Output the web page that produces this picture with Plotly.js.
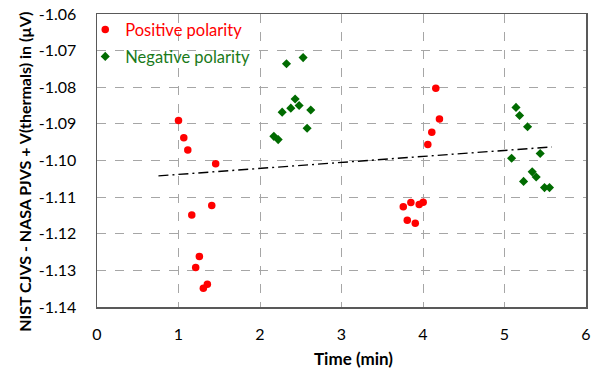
<!DOCTYPE html>
<html>
<head>
<meta charset="utf-8">
<script src="https://cdn.plot.ly/plotly-3.0.1.min.js"></script>
<style>
  html, body { margin: 0; padding: 0; background: #fff; }
  #chart { width: 598px; height: 370px; }
</style>
</head>
<body>
<div id="chart"></div>
<script>
// Positive polarity readings
var posTime = [1.00, 1.065, 1.114, 1.163, 1.211, 1.256, 1.305, 1.354, 1.408, 1.456,
               3.758, 3.807, 3.851, 3.905, 3.953, 4.002, 4.059, 4.108, 4.157, 4.202];
var posValue = [-1.0891, -1.0938, -1.0971, -1.1149, -1.1292, -1.1262, -1.1349, -1.1338, -1.1123, -1.1009,
                -1.1126, -1.1163, -1.1115, -1.1171, -1.1120, -1.1114, -1.0956, -1.0923, -1.0803, -1.0887];

// Negative polarity readings
var negTime = [2.170, 2.223, 2.272, 2.325, 2.378, 2.431, 2.480, 2.529, 2.578, 2.623,
               5.087, 5.141, 5.185, 5.234, 5.283, 5.340, 5.389, 5.438, 5.491, 5.552];
var negValue = [-1.0934, -1.0943, -1.0868, -1.0736, -1.0857, -1.0832, -1.0850, -1.0719, -1.0912, -1.0862,
                -1.0994, -1.0855, -1.0877, -1.1057, -1.0908, -1.1031, -1.1045, -1.0981, -1.1074, -1.1074];

// Linear drift fit endpoints
var fitTime = [0.754, 5.58];
var fitValue = [-1.1042, -1.0963];

var xTicks = [0, 1, 2, 3, 4, 5, 6];
var yTicks = [-1.14, -1.13, -1.12, -1.11, -1.10, -1.09, -1.08, -1.07, -1.06];

var xTitle = 'Time (min)';
var yTitle = 'NIST CJVS - NASA PJVS + V(thermals) in (\u00b5V)';

var FONT = 'Lato, "Open Sans", sans-serif';

var traces = [
  {
    x: fitTime, y: fitValue, mode: 'lines', showlegend: false,
    line: { color: '#000000', width: 1.4, dash: '10px,4px,2px,4px' },
    hoverinfo: 'skip'
  },
  {
    x: posTime, y: posValue, mode: 'markers', name: 'Positive polarity',
    marker: { symbol: 'circle', size: 7.5, color: '#ff0000' },
    legend: 'legend'
  },
  {
    x: negTime, y: negValue, mode: 'markers', name: 'Negative polarity',
    marker: { symbol: 'diamond', size: 7, color: '#006b00' },
    legend: 'legend2'
  }
];

var axisCommon = {
  showline: true, linecolor: '#595959', linewidth: 1.5, mirror: true,
  showgrid: true, gridcolor: '#a6a6a6', griddash: 'dash', gridwidth: 1,
  zeroline: false,
  ticks: 'outside', tickcolor: 'rgba(0,0,0,0)',
  tickfont: { family: FONT, size: 16, color: '#000' }
};

var layout = {
  width: 598, height: 370,
  margin: { l: 97, r: 12, t: 14, b: 63 },
  paper_bgcolor: '#fff', plot_bgcolor: '#fff',
  xaxis: Object.assign({}, axisCommon, {
    range: [0, 6], tickvals: xTicks, ticktext: xTicks.map(String), ticklen: 12
  }),
  yaxis: Object.assign({}, axisCommon, {
    range: [-1.14, -1.06], tickvals: yTicks, ticklen: 16,
    ticktext: yTicks.map(function (v) { return v.toFixed(2); })
  }),
  annotations: [
    {
      text: '<b>' + xTitle + '</b>', xref: 'paper', yref: 'paper',
      x: 0.524, y: -0.175, xanchor: 'center', yanchor: 'middle', showarrow: false,
      font: { family: FONT, size: 17, color: '#000' }
    },
    {
      text: '<b>' + yTitle + '</b>', xref: 'paper', yref: 'paper',
      x: -0.148, y: 0.46, xanchor: 'center', yanchor: 'middle', showarrow: false,
      textangle: -90,
      font: { family: FONT, size: 16, color: '#000' }
    }
  ],
  legend: {
    x: -0.024, y: 1.006, xanchor: 'left', yanchor: 'top',
    bgcolor: 'rgba(0,0,0,0)', borderwidth: 0,
    font: { family: FONT, size: 16.5, color: '#ff0000' },
    itemwidth: 30, tracegroupgap: 0
  },
  legend2: {
    x: -0.024, y: 0.914, xanchor: 'left', yanchor: 'top',
    bgcolor: 'rgba(0,0,0,0)', borderwidth: 0,
    font: { family: FONT, size: 16.5, color: '#1a7a1a' },
    itemwidth: 30, tracegroupgap: 0
  },
  showlegend: true
};

Plotly.newPlot('chart', traces, layout, { displayModeBar: false, staticPlot: true });
</script>
</body>
</html>
